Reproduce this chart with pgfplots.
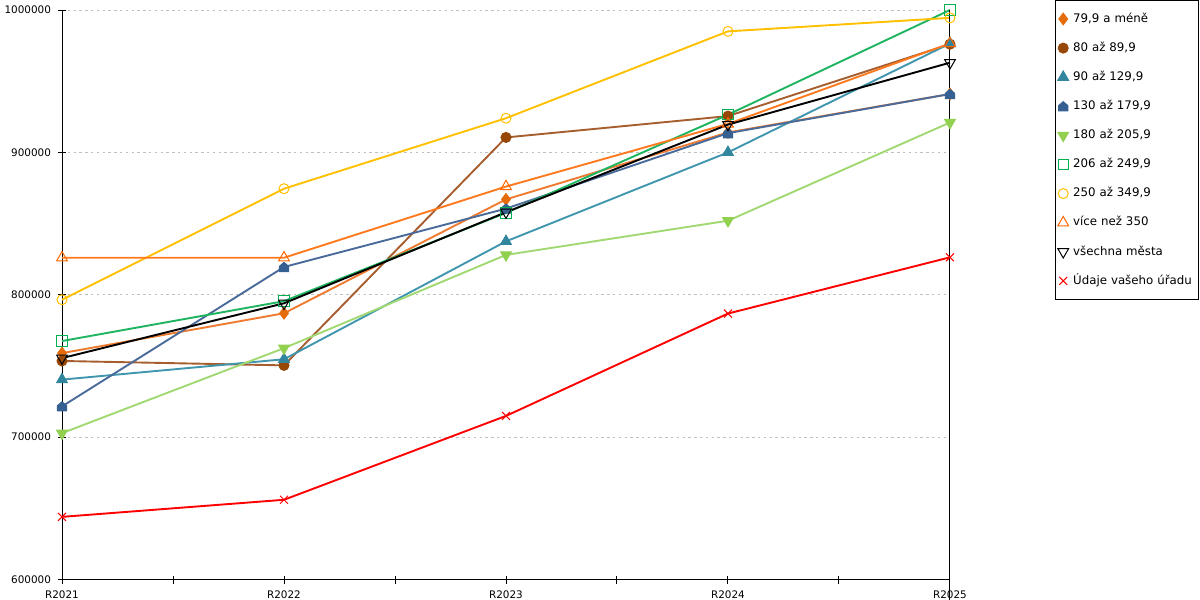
\documentclass[border=0pt]{standalone}
\usepackage{fontspec}
\setmainfont{DejaVu Sans}
\usepackage{pgfplots}
\pgfplotsset{compat=1.18}
\definecolor{cOrA}{HTML}{E46C0A}
\definecolor{cOrAl}{HTML}{EE7B30}
\definecolor{cBr}{HTML}{974706}
\definecolor{cBrl}{HTML}{A65E2E}
\definecolor{cTe}{HTML}{31859C}
\definecolor{cTel}{HTML}{4096AE}
\definecolor{cBl}{HTML}{366092}
\definecolor{cBll}{HTML}{4A6A9A}
\definecolor{cLg}{HTML}{92D050}
\definecolor{cLgl}{HTML}{A2D872}
\definecolor{cGr}{HTML}{00B050}
\definecolor{cGrl}{HTML}{1EB460}
\definecolor{cYe}{HTML}{FFC000}
\definecolor{cOrB}{HTML}{FF6600}
\definecolor{cOrBl}{HTML}{FF7A1E}
\pgfdeclareplotmark{house*}{%
  \pgfpathmoveto{\pgfqpoint{-\pgfplotmarksize}{-\pgfplotmarksize}}%
  \pgfpathlineto{\pgfqpoint{\pgfplotmarksize}{-\pgfplotmarksize}}%
  \pgfpathlineto{\pgfqpoint{\pgfplotmarksize}{0.15\pgfplotmarksize}}%
  \pgfpathlineto{\pgfqpoint{0pt}{\pgfplotmarksize}}%
  \pgfpathlineto{\pgfqpoint{-\pgfplotmarksize}{0.15\pgfplotmarksize}}%
  \pgfpathclose\pgfusepathqfillstroke}
\begin{document}
\begin{tikzpicture}
\path[use as bounding box] (0,0) rectangle (600pt,300pt);
\begin{axis}[
  scale only axis, width=444pt, height=284.75pt,
  at={(31pt,10.25pt)}, anchor=south west,
  xmin=0, xmax=4, ymin=600000, ymax=1000000,
  axis lines*=left,
  axis line style={black, line width=0.5pt},
  xtick={0,1,2,3,4},
  xticklabels={R2021,R2022,R2023,R2024,R2025},
  minor xtick={0.5,1.5,2.5,3.5},
  ytick={600000,700000,800000,900000,1000000},
  scaled y ticks=false,
  yticklabel style={/pgf/number format/.cd,fixed,1000 sep={},assume math mode=true},
  tick label style={font=\fontsize{5.2}{6}\selectfont},
  tick align=center, major tick length=4pt, minor tick length=4pt,
  tick style={black, line width=0.5pt},
  ymajorgrids,
  major grid style={color=black!25, dash pattern=on 1.2pt off 1.7pt, line width=0.5pt},
  clip=false,
  legend cell align=left,
  legend image code/.code={\draw[#1,/tikz/only marks] plot coordinates {(0pt,0pt)};},
  legend style={at={(1.1182,1.0176)}, anchor=north west, draw=black, line width=0.5pt,
    font=\fontsize{5.9}{7}\selectfont, inner xsep=1.2pt, inner ysep=5.8pt,
    row sep=7.65pt, column sep=1.8pt,
    nodes={inner sep=0.5pt, text height=4.6pt, text depth=1.3pt},
    /tikz/every even column/.append style={text width=61.2pt}},
  every axis plot/.append style={line width=0.95pt},
]
\addplot[color=cOrAl, mark=diamond*, mark size=2.9pt, mark options={solid, line width=0.5pt, draw=cOrA, fill=cOrA}]
  coordinates {(0,759000) (1,787000) (2,867000) (3,914000) (4,941000)};
\addlegendentry{79,9 a méně}
\addplot[color=cBrl, mark=*, mark size=2.5pt, mark options={solid, line width=0.5pt, draw=cBr, fill=cBr}]
  coordinates {(0,753500) (1,750400) (2,910500) (3,925500) (4,976000)};
\addlegendentry{80 až 89,9}
\addplot[color=cTel, mark=triangle*, mark size=3.1pt, mark options={solid, line width=0.5pt, draw=cTe, fill=cTe}]
  coordinates {(0,740400) (1,754700) (2,837500) (3,900000) (4,976500)};
\addlegendentry{90 až 129,9}
\addplot[color=cBll, mark=house*, mark size=2.3pt, mark options={solid, line width=0.5pt, draw=cBl, fill=cBl}]
  coordinates {(0,721600) (1,819500) (2,860500) (3,913500) (4,941000)};
\addlegendentry{130 až 179,9}
\addplot[color=cLgl, mark=triangle*, mark size=3.1pt, mark options={solid, rotate=180, line width=0.5pt, draw=cLg, fill=cLg}]
  coordinates {(0,702800) (1,762500) (2,828000) (3,852000) (4,921000)};
\addlegendentry{180 až 205,9}
\addplot[color=cGrl, mark=square, mark size=2.6pt, mark options={solid, line width=0.5pt, draw=cGr}]
  coordinates {(0,767500) (1,795500) (2,857500) (3,926500) (4,1000000)};
\addlegendentry{206 až 249,9}
\addplot[color=cYe, mark=o, mark size=2.5pt, mark options={solid, line width=0.5pt, draw=cYe}]
  coordinates {(0,796500) (1,874500) (2,924000) (3,985000) (4,994500)};
\addlegendentry{250 až 349,9}
\addplot[color=cOrBl, mark=triangle, mark size=3.1pt, mark options={solid, line width=0.5pt, draw=cOrB}]
  coordinates {(0,826000) (1,826000) (2,876000) (3,920000) (4,976500)};
\addlegendentry{více než 350}
\addplot[color=black, mark=triangle, mark size=3.1pt, mark options={solid, rotate=180, line width=0.5pt, draw=black}]
  coordinates {(0,755500) (1,794000) (2,858000) (3,919500) (4,963000)};
\addlegendentry{všechna města}
\addplot[color=red, mark=x, mark size=2.8pt, mark options={solid, line width=0.5pt, draw=red}]
  coordinates {(0,644000) (1,656000) (2,714900) (3,786800) (4,826300)};
\addlegendentry{Údaje vašeho úřadu}
\draw[black, line width=0.5pt] (rel axis cs:1,0) ++(0,-2pt) -- (rel axis cs:1,1);
\end{axis}
\end{tikzpicture}
\end{document}
